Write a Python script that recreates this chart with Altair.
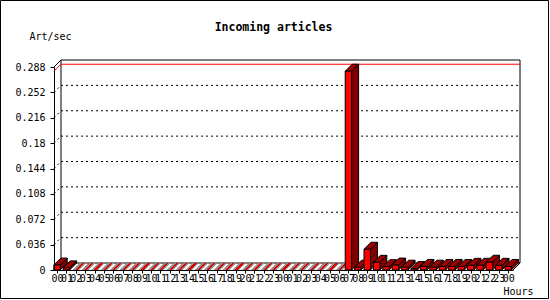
import altair as alt
import pandas as pd

TITLE = "Incoming articles"
Y_TITLE = "Art/sec"
X_TITLE = "Hours"

HOURS = ["00", "01", "02", "03", "04", "05", "06", "07", "08", "09", "10", "11",
         "12", "13", "14", "15", "16", "17", "18", "19", "20", "21", "22", "23",
         "00", "01", "02", "03", "04", "05", "06", "07", "08", "09", "10", "11",
         "12", "13", "14", "15", "16", "17", "18", "19", "20", "21", "22", "23",
         "00"]
RATES = [0.007, 0.003, 0, 0, 0, 0, 0, 0, 0, 0, 0, 0,
         0, 0, 0, 0, 0, 0, 0, 0, 0, 0, 0, 0,
         0, 0, 0, 0, 0, 0, 0, 0.282, 0.004, 0.0294, 0.0109, 0.0047,
         0.007, 0.004, 0.002, 0.005, 0.004, 0.005, 0.005, 0.005, 0.0066, 0.0066, 0.011, 0.0066,
         0.005]
Y_TICKS = [0, 0.036, 0.072, 0.108, 0.144, 0.18, 0.216, 0.252, 0.288]
Y_LABELS = ["0", "0.036", "0.072", "0.108", "0.144", "0.18", "0.216", "0.252", "0.288"]

# layout / style
W, H = 459, 203
DEPTH = 7
X_DOMAIN = [-0.32, 48.51]
Y_DOMAIN = [0, 0.288]
DX = DEPTH * (X_DOMAIN[1] - X_DOMAIN[0]) / W
DY = DEPTH * (Y_DOMAIN[1] - Y_DOMAIN[0]) / H
HALF = 0.34
FONT = "DejaVu Sans Mono"

bars = pd.DataFrame({"i": list(range(len(RATES))), "hour": HOURS, "v": RATES})
verts = bars.merge(pd.DataFrame({"k": [0, 1]}), how="cross")
ticks = pd.DataFrame({"t": Y_TICKS})
one = pd.DataFrame({"a": [0]})

xs = alt.Scale(domain=X_DOMAIN, nice=False, zero=False)
ys = alt.Scale(domain=Y_DOMAIN, nice=False, zero=False)

x_label_expr = "[" + ",".join("'" + h + "'" for h in HOURS) + "][datum.value]"
y_label_expr = ("[" + ",".join("'" + s + "'" for s in Y_LABELS) + "][round(datum.value / "
                + str(Y_TICKS[1]) + ")]")

AX_X = alt.Axis(
    values=list(range(len(HOURS))), labelExpr=x_label_expr, title=None,
    labelFont=FONT, labelFontSize=10, labelColor="black", labelOverlap=False,
    labelFlush=False, labelBound=False, labelPadding=0, tickSize=3,
    tickColor="black", domainColor="black", grid=False, zindex=1)
AX_Y = alt.Axis(
    values=Y_TICKS, labelExpr=y_label_expr, title=None,
    labelFont=FONT, labelFontSize=10, labelColor="black", labelPadding=5,
    labelOverlap=False, labelFlush=False,
    tickSize=4, tickColor="black", domainColor="black", grid=False, zindex=1)

# hatch gradient for empty hours
bw = 2 * HALF * W / (X_DOMAIN[1] - X_DOMAIN[0]) + DEPTH
t_ratio = DEPTH / bw
p_scale = bw * (1 + t_ratio ** 2)
period = 4.7 / p_scale
stops = []
n = 0
while n * period < 1:
    a = n * period
    b = min(1, a + period / 2)
    c = min(1, a + period)
    stops += [alt.GradientStop(offset=a, color="#e00000"),
              alt.GradientStop(offset=b, color="#e00000"),
              alt.GradientStop(offset=b, color="#8c8c8c"),
              alt.GradientStop(offset=c, color="#8c8c8c")]
    n += 1
hatch = alt.LinearGradient(gradient="linear", stops=stops, x1=0, y1=0, x2=1, y2=t_ratio)

frame = alt.Chart(one).mark_rect(fillOpacity=0, stroke="black", strokeWidth=1).encode(
    x=alt.value(-53.5), x2=alt.value(494.5), y=alt.value(-66.5), y2=alt.value(231.5))

wall = alt.Chart(one).mark_rect(
    fill="white", stroke="black", strokeWidth=1,
    xOffset=DEPTH, x2Offset=DEPTH, yOffset=-DEPTH, y2Offset=-DEPTH
).encode(x=alt.value(0), x2=alt.value("width"), y=alt.value(0), y2=alt.value("height"))

grid = alt.Chart(ticks).transform_filter("datum.t > 0 && datum.t < 0.288").mark_rule(
    color="black", strokeDash=[2, 3], strokeWidth=1,
    xOffset=DEPTH, x2Offset=DEPTH, yOffset=-DEPTH
).encode(y=alt.Y("t:Q", scale=ys, axis=AX_Y), x=alt.value(0), x2=alt.value("width"))

diag = alt.Chart(ticks).transform_filter("datum.t > 0 && datum.t < 0.288").mark_rule(
    color="black", strokeDash=[2, 3], strokeWidth=1, x2Offset=DEPTH, y2Offset=-DEPTH
).encode(y=alt.Y("t:Q", scale=ys, axis=AX_Y), y2="t:Q", x=alt.value(0), x2=alt.value(0))

diag_top = alt.Chart(one).mark_rule(color="black", strokeWidth=1, x2Offset=DEPTH, y2Offset=-DEPTH).encode(
    x=alt.value(0), x2=alt.value(0), y=alt.value(0), y2=alt.value(0))

diag_floor = alt.Chart(one).mark_rule(color="black", strokeWidth=1, x2Offset=DEPTH, y2Offset=-DEPTH).encode(
    x=alt.value("width"), x2=alt.value("width"), y=alt.value("height"), y2=alt.value("height"))

maxline = alt.Chart(bars).transform_aggregate(m="max(v)").mark_rule(
    color="#ff0000", strokeWidth=1, xOffset=DEPTH, x2Offset=DEPTH, yOffset=-DEPTH
).encode(y=alt.Y("m:Q", scale=ys, axis=AX_Y), x=alt.value(0), x2=alt.value("width"))

maxdiag = alt.Chart(bars).transform_aggregate(m="max(v)").mark_rule(
    color="#ff0000", strokeWidth=1, x2Offset=DEPTH, y2Offset=-DEPTH
).encode(y=alt.Y("m:Q", scale=ys, axis=AX_Y), y2="m:Q", x=alt.value(0), x2=alt.value(0))

base_v = alt.Chart(verts).transform_calculate(
    xl=f"datum.i - {HALF} + datum.k * {DX}",
    xr=f"datum.i + {HALF} + datum.k * {DX}",
    yt=f"datum.v + datum.k * {DY}",
    yb=f"datum.k * {DY}",
)

side = base_v.transform_filter("datum.v > 0").mark_area(
    orient="vertical", fill="#800000", stroke="black", strokeWidth=1
).encode(
    x=alt.X("xr:Q", scale=xs, axis=AX_X),
    y=alt.Y("yt:Q", scale=ys, axis=AX_Y, stack=None),
    y2="yb:Q",
    detail="i:N",
)

top_zero = base_v.transform_filter("datum.v == 0").mark_area(
    orient="horizontal", fill=hatch, strokeWidth=0
).encode(
    y=alt.Y("yt:Q", scale=ys, axis=AX_Y),
    x=alt.X("xl:Q", scale=xs, axis=AX_X, stack=None),
    x2="xr:Q",
    detail="i:N",
)

top = base_v.transform_filter("datum.v > 0").mark_area(
    orient="horizontal", fill="#a00000", stroke="black", strokeWidth=1
).encode(
    y=alt.Y("yt:Q", scale=ys, axis=AX_Y),
    x=alt.X("xl:Q", scale=xs, axis=AX_X, stack=None),
    x2="xr:Q",
    detail="i:N",
)

front = alt.Chart(bars).transform_calculate(
    xl=f"datum.i - {HALF}", xr=f"datum.i + {HALF}", z="0"
).transform_filter("datum.v > 0").mark_rect(
    fill="#ff0000", stroke="black", strokeWidth=1
).encode(
    x=alt.X("xl:Q", scale=xs, axis=AX_X),
    x2="xr:Q",
    y=alt.Y("v:Q", scale=ys, axis=AX_Y),
    y2="z:Q",
)

def label(text, x, y, bold=False, size=10):
    return alt.Chart(pd.DataFrame({"t": [text]})).mark_text(
        font=FONT, fontSize=size, fontWeight="bold" if bold else "normal",
        color="black", align="center", baseline="middle"
    ).encode(text="t:N", x=alt.value(x), y=alt.value(y))

title = label(TITLE, 219.5, -39.5, bold=True, size=11.5)
ytitle = label(Y_TITLE, -3.5, -30)
xtitle = label(X_TITLE, 464.5, 225)

chart = alt.layer(
    frame, wall, grid, diag, diag_top, maxline, maxdiag,
    side, top_zero, top, front, diag_floor, title, ytitle, xtitle
).properties(
    width=W, height=H,
    autosize=alt.AutoSizeParams(type="none"),
    padding={"left": 54, "top": 67, "right": 37, "bottom": 30},
    background="white",
).configure_view(stroke=None)

chart.save("out.html", embed_options={"renderer": "svg", "actions": False})
